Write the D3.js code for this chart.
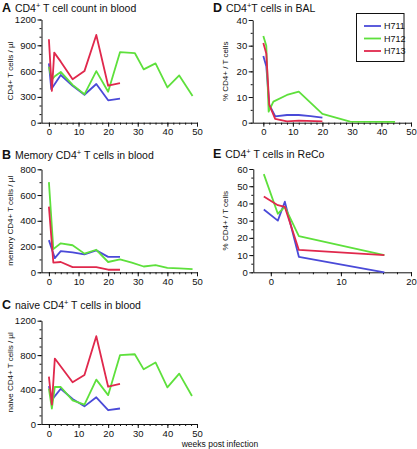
<!DOCTYPE html>
<html><head><meta charset="utf-8">
<script src="https://cdn.jsdelivr.net/npm/d3@7"></script>
<style>
body{margin:0;background:#fff;}
svg{font-family:"Liberation Sans",Arial,Helvetica,sans-serif;}
</style></head>
<body>
<svg id="c" width="417" height="449"></svg>
<script>
const animals = ["H711","H712","H713"];
const colors = ["#4a4ad8","#5ee03c","#e0284c"];

// Panel A: CD4+ T cell count in blood [week, cells/µl]
const aH711 = [[0,690],[0.8,390],[4,555],[8,430],[12,325],[16,450],[20,260],[24,280]];
const aH712 = [[0,650],[1,500],[2,540],[4,590],[8,440],[12,330],[16,600],[20,360],[24,820],[29,810],[32,620],[36,690],[40,410],[44,550],[48.5,310]];
const aH713 = [[0,970],[1,370],[1.8,815],[4,710],[8,505],[12,600],[16,1020],[20,430],[24,460]];

// Panel B: Memory CD4+ T cells
const bH711 = [[0,250],[2,110],[4,165],[8,155],[12,140],[16,170],[20,120],[24,120]];
const bH712 = [[0,700],[1.5,180],[4,225],[8,210],[12,145],[16,175],[20,80],[24,100],[28,75],[32,45],[36,55],[40,35],[44,30],[48.5,25]];
const bH713 = [[0,510],[1.5,75],[4,80],[8,40],[12,40],[16,40],[20,20],[24,20]];

// Panel C: naive CD4+ T cells
const cH711 = [[0,440],[1,280],[4,410],[8,290],[12,205],[16,310],[20,160],[24,180]];
const cH712 = [[0,410],[1,180],[2,430],[4,430],[8,275],[12,225],[16,515],[20,335],[24,800],[29,810],[32,635],[36,715],[40,425],[44,585],[48.3,325]];
const cH713 = [[0,550],[1,225],[2,760],[8,485],[12,570],[16,1020],[20,433],[24,465]];

// Panel D: % CD4+ in BAL
const dH711 = [[0,26],[1,22],[2,7],[4,2.5],[8,3],[12,3],[16,2.6],[20,2]];
const dH712 = [[0,33.8],[1,30],[1.8,4.3],[3.4,8.2],[8,10.8],[12,12.1],[20,3.4],[29.4,0.4],[44.6,0.3]];
const dH713 = [[0,31],[1,27],[2,7],[4,1.5],[8,0.5],[12,0.8],[20,0.5]];

// Panel E: % CD4+ in ReCo
const eH711 = [[-1,36.5],[1,30],[2,41],[4,9],[16.2,0]];
const eH712 = [[-1,57],[1,34],[2,38],[4,21],[16.2,10]];
const eH713 = [[-1,44],[1,39],[2,38],[4,13],[16.2,10]];

const panels = [
  {letter:"A", title:["CD4","+"," T cell count in blood"], ylab:"CD4+ T cells / µl",
   x0:41.5, x1:197, y0:19.5, y1:122.7, xdom:[-2.5,50], ydom:[0,1200], yt:[0,300,600,900,1200], ym:100,
   xt:[0,10,20,30,40,50], xm:2, series:[aH711,aH712,aH713], tx:2, ty:12, lx:13},
  {letter:"B", title:["Memory CD4","+"," T cells in blood"], ylab:"memory CD4+ T cells / µl",
   x0:41.5, x1:197, y0:169.3, y1:272.3, xdom:[-2.5,50], ydom:[0,800], yt:[0,200,400,600,800], ym:100,
   xt:[0,10,20,30,40,50], xm:2, series:[bH711,bH712,bH713], tx:2, ty:158.5, lx:13},
  {letter:"C", title:["naive CD4","+"," T cells in blood"], ylab:"naive CD4+ T cells / µl",
   x0:41.5, x1:197, y0:320.7, y1:424, xdom:[-2.5,50], ydom:[0,1200], yt:[0,400,800,1200], ym:100,
   xt:[0,10,20,30,40,50], xm:2, series:[cH711,cH712,cH713], tx:2, ty:309, lx:13},
  {letter:"D", title:["CD4","+","T cells in BAL"], ylab:"% CD4+ / T cells",
   x0:252.7, x1:411, y0:20, y1:122.7, xdom:[-3.6,50], ydom:[0,40], yt:[0,10,20,30,40], ym:5,
   xt:[0,10,20,30,40,50], xm:2, series:[dH711,dH712,dH713], tx:213, ty:12, lx:228},
  {letter:"E", title:["CD4","+"," T cells in ReCo"], ylab:"% CD4+ / T cells",
   x0:253.3, x1:411, y0:169, y1:272.3, xdom:[-2.5,20], ydom:[0,60], yt:[0,10,20,30,40,50,60], ym:5,
   xt:[0,10,20], xm:2, series:[eH711,eH712,eH713], tx:213, ty:158, lx:228}
];

const svg = d3.select("#c");
const fmt = d3.format("d");

panels.forEach(p => {
  const x = d3.scaleLinear().domain(p.xdom).range([p.x0, p.x1]);
  const y = d3.scaleLinear().domain(p.ydom).range([p.y1, p.y0]);
  const g = svg.append("g");

  // title
  const t = g.append("text").attr("x", p.tx).attr("y", p.ty).attr("font-size", 10.5).attr("fill","#111");
  t.append("tspan").text(p.letter).attr("font-weight","bold").attr("font-size", 12.5);
  t.append("tspan").text(" " + p.title[0]).attr("dx", 1);
  t.append("tspan").text(p.title[1]).attr("font-size", 7.5).attr("dy", -4);
  t.append("tspan").text(p.title[2]).attr("dy", 4);

  // y axis
  const ymin = d3.range(p.ydom[0], p.ydom[1] + 1e-9, p.ym);
  const yAxisMinor = d3.axisLeft(y).tickValues(ymin).tickSize(2).tickFormat("");
  g.append("g").attr("transform", `translate(${p.x0},0)`).call(yAxisMinor)
    .call(s => s.select(".domain").remove());
  const yAxis = d3.axisLeft(y).tickValues(p.yt).tickSize(4).tickPadding(1.5).tickSizeOuter(0).tickFormat(fmt);
  const ya = g.append("g").attr("transform", `translate(${p.x0},0)`).call(yAxis);
  ya.selectAll("text").attr("font-size", 9.5).attr("font-family","Liberation Sans, Arial, sans-serif").attr("fill","#111");

  // x axis
  const xmin = d3.range(0, p.xdom[1] + 1e-9, p.xm);
  const xAxisMinor = d3.axisBottom(x).tickValues(xmin).tickSize(2).tickFormat("");
  g.append("g").attr("transform", `translate(0,${p.y1})`).call(xAxisMinor)
    .call(s => s.select(".domain").remove());
  const xAxis = d3.axisBottom(x).tickValues(p.xt).tickSize(4).tickPadding(2).tickSizeOuter(0).tickFormat(fmt);
  const xa = g.append("g").attr("transform", `translate(0,${p.y1})`).call(xAxis);
  xa.selectAll("text").attr("font-size", 9.5).attr("font-family","Liberation Sans, Arial, sans-serif").attr("fill","#111");
  g.selectAll(".domain").attr("stroke","#111").attr("stroke-width",1);
  g.selectAll(".tick line").attr("stroke","#111");

  // y label
  g.append("text").attr("transform", `translate(${p.lx},${(p.y0+p.y1)/2}) rotate(-90)`)
    .attr("text-anchor","middle").attr("font-size", 8).attr("fill","#111").text(p.ylab);

  // lines
  const line = d3.line().x(d => x(d[0])).y(d => y(d[1]));
  p.series.forEach((s, i) => {
    g.append("path").datum(s).attr("d", line).attr("fill","none")
      .attr("stroke", colors[i]).attr("stroke-width", 1.8).attr("stroke-linejoin","round");
  });
});

// x axis label
svg.append("text").attr("x", 220).attr("y", 447).attr("text-anchor","middle")
  .attr("font-size", 8.5).attr("fill","#111").text("weeks post infection");

// legend in panel D
const lg = svg.append("g");
lg.append("rect").attr("x", 356.5).attr("y", 13.5).attr("width", 47.5).attr("height", 48)
  .attr("fill","#fff").attr("stroke","#111").attr("stroke-width",1);
animals.forEach((a, i) => {
  const yy = 26 + i * 12.5;
  lg.append("line").attr("x1", 364).attr("x2", 381).attr("y1", yy).attr("y2", yy)
    .attr("stroke", colors[i]).attr("stroke-width", 1.8);
  lg.append("text").attr("x", 384).attr("y", yy + 3.3).attr("font-size", 9).attr("fill","#111").text(a);
});
</script>
</body></html>
